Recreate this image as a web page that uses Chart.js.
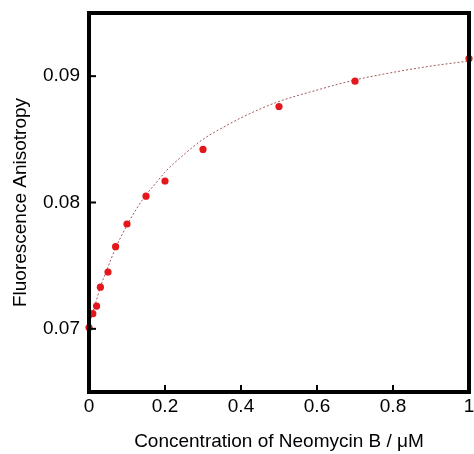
<!DOCTYPE html>
<html lang="en">
<head>
    <meta charset="UTF-8">
    <title>Fluorescence Anisotropy vs Neomycin B</title>
    <script src="https://cdn.jsdelivr.net/npm/chart.js"></script>
    <style>
        html, body {
            margin: 0;
            padding: 0;
            background: white;
        }
        .wrap {
            width: 474px;
            height: 454px;
        }
    </style>
</head>
<body>
    <div class="wrap">
        <canvas id="chart" width="474" height="454"></canvas>
    </div>

    <script>
        // measured points
        const concData = [0, 0.01, 0.02, 0.03, 0.05, 0.07, 0.1, 0.15, 0.2, 0.3, 0.5, 0.7, 1.0];
        const anisoData = [0.0701, 0.0712, 0.0718, 0.0733, 0.0745, 0.0765, 0.0783, 0.0805, 0.0817, 0.0842, 0.0876, 0.0896, 0.0914];

        // fitted curve
        const fitConc = [0, 0.01, 0.02, 0.03, 0.05, 0.07, 0.1, 0.125, 0.15, 0.175, 0.2, 0.25, 0.3, 0.35, 0.4, 0.45, 0.5, 0.6, 0.7, 0.8, 0.9, 1.0];
        const fitAniso = [0.0702, 0.0713, 0.0723, 0.0733, 0.0749, 0.0764, 0.0782, 0.0795, 0.0806, 0.0815, 0.0824, 0.0838, 0.0850, 0.0859, 0.0867, 0.0874, 0.0880, 0.0889, 0.0897, 0.0903, 0.0908, 0.0912];

        const xTicks = [0, 0.2, 0.4, 0.6, 0.8, 1];
        const yTicks = [0.07, 0.08, 0.09];

        const font = { family: "'Liberation Sans', Arial, sans-serif", size: 19 };

        // frame + inward tick marks
        const framePlugin = {
            id: 'frame',
            afterDraw(chart) {
                const ctx = chart.ctx;
                const a = chart.chartArea;
                const xs = chart.scales.x, ys = chart.scales.y;
                ctx.save();
                ctx.strokeStyle = '#000';
                ctx.lineWidth = 2;
                xTicks.forEach(v => {
                    const px = xs.getPixelForValue(v);
                    ctx.beginPath();
                    ctx.moveTo(px, a.bottom);
                    ctx.lineTo(px, a.bottom - 7);
                    ctx.stroke();
                });
                yTicks.forEach(v => {
                    const py = ys.getPixelForValue(v);
                    ctx.beginPath();
                    ctx.moveTo(a.left, py);
                    ctx.lineTo(a.left + 7, py);
                    ctx.stroke();
                });
                ctx.lineWidth = 4;
                ctx.strokeRect(a.left, a.top, a.right - a.left, a.bottom - a.top);
                ctx.restore();
            }
        };

        const ctx = document.getElementById('chart').getContext('2d');
        new Chart(ctx, {
            type: 'scatter',
            data: {
                datasets: [
                    {
                        label: 'Fit',
                        data: fitConc.map((x, i) => ({ x: x, y: fitAniso[i] })),
                        showLine: true,
                        borderColor: '#a05a5a',
                        borderWidth: 1,
                        borderDash: [2, 2],
                        pointRadius: 0,
                        cubicInterpolationMode: 'monotone',
                        order: 2
                    },
                    {
                        label: 'Data',
                        data: concData.map((x, i) => ({ x: x, y: anisoData[i] })),
                        backgroundColor: '#e3171c',
                        borderColor: '#e3171c',
                        pointRadius: 3.6,
                        borderWidth: 0,
                        order: 1
                    }
                ]
            },
            options: {
                responsive: false,
                animation: false,
                clip: false,
                layout: { padding: { top: 13, right: 5, left: 0, bottom: 0 } },
                plugins: {
                    legend: { display: false },
                    tooltip: { enabled: false }
                },
                scales: {
                    x: {
                        type: 'linear',
                        min: 0,
                        max: 1,
                        afterBuildTicks: s => { s.ticks = xTicks.map(v => ({ value: v })); },
                        afterFit: s => {
                            s.height = 62;
                            s.paddingLeft = 0;
                            s.paddingRight = 0;
                        },
                        ticks: {
                            color: '#000',
                            font: font,
                            padding: 3,
                            maxRotation: 0,
                            callback: v => String(v)
                        },
                        grid: { display: false, drawTicks: false },
                        border: { display: false },
                        title: {
                            display: true,
                            text: 'Concentration of Neomycin B / μM',
                            color: '#000',
                            font: font,
                            padding: { top: 0, bottom: 1 }
                        }
                    },
                    y: {
                        type: 'linear',
                        min: 0.065,
                        max: 0.095,
                        afterBuildTicks: s => { s.ticks = yTicks.map(v => ({ value: v })); },
                        afterFit: s => {
                            s.width = 89;
                            s.paddingTop = 0;
                            s.paddingBottom = 0;
                        },
                        ticks: {
                            color: '#000',
                            font: font,
                            padding: 9,
                            callback: v => v.toFixed(2)
                        },
                        grid: { display: false, drawTicks: false },
                        border: { display: false },
                        title: {
                            display: true,
                            text: 'Fluorescence Anisotropy',
                            color: '#000',
                            font: font,
                            padding: { top: 9, bottom: 0 }
                        }
                    }
                }
            },
            plugins: [framePlugin]
        });
    </script>
</body>
</html>
